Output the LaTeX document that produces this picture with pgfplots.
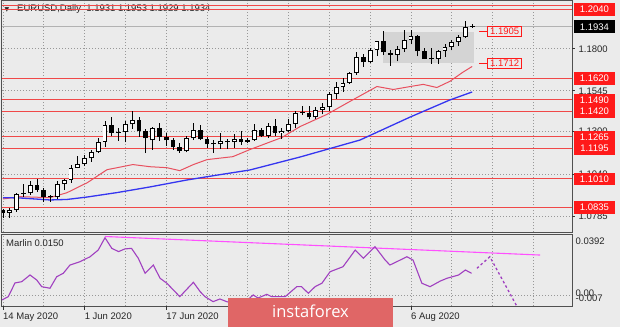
\documentclass[border=0pt]{standalone}
\usepackage{fontspec}
\setmainfont{Liberation Sans}
\newfontfamily\dejavu{DejaVu Sans}
\newfontfamily\logofont{Open Sans}
\usepackage{pgfplots}
\usepackage{pgfplotstable}
\pgfplotsset{compat=1.18}
\definecolor{bg}{HTML}{EBEBEB}
\definecolor{lvl}{HTML}{F04848}
\definecolor{lvlbox}{HTML}{FF1A1A}
\definecolor{maRed}{HTML}{E8505F}
\definecolor{maBlue}{HTML}{3535F0}
\definecolor{osc}{HTML}{A040C0}
\definecolor{trend}{HTML}{FF50FF}
\definecolor{frame}{HTML}{505050}
\definecolor{logo}{HTML}{E06666}
\definecolor{gridc}{HTML}{989898}
\definecolor{boxg}{HTML}{D4D4D4}

\pgfplotstableread{
i O H L C
0 1.0818 1.0826 1.0774 1.0803
1 1.0803 1.0831 1.0774 1.0819
2 1.0820 1.0927 1.0809 1.0918
3 1.0918 1.0976 1.0901 1.0922
4 1.0922 1.0996 1.0913 1.0975
5 1.0975 1.1009 1.0930 1.0944
6 1.0944 1.0952 1.0870 1.0900
7 1.0900 1.0912 1.0870 1.0899
8 1.0898 1.0996 1.0886 1.0977
9 1.0978 1.1009 1.0941 1.1005
10 1.1005 1.1093 1.0987 1.1077
11 1.1077 1.1147 1.1076 1.1101
12 1.1100 1.1153 1.1091 1.1134
13 1.1134 1.1188 1.1114 1.1171
14 1.1171 1.1257 1.1166 1.1236
15 1.1236 1.1362 1.1205 1.1337
16 1.1337 1.1384 1.1270 1.1289
17 1.1290 1.1317 1.1242 1.1294
18 1.1294 1.1361 1.1231 1.1341
19 1.1341 1.1422 1.1316 1.1369
20 1.1369 1.1386 1.1267 1.1300
21 1.1300 1.1310 1.1167 1.1256
22 1.1244 1.1324 1.1188 1.1322
23 1.1322 1.1350 1.1242 1.1264
24 1.1264 1.1286 1.1212 1.1244
25 1.1244 1.1257 1.1186 1.1202
26 1.1202 1.1227 1.1168 1.1177
27 1.1177 1.1268 1.1171 1.1257
28 1.1257 1.1349 1.1245 1.1307
29 1.1307 1.1338 1.1246 1.1250
30 1.1250 1.1262 1.1195 1.1219
31 1.1219 1.1249 1.1170 1.1220
32 1.1219 1.1288 1.1191 1.1241
33 1.1241 1.1252 1.1192 1.1234
34 1.1234 1.1285 1.1200 1.1250
35 1.1250 1.1303 1.1215 1.1237
36 1.1237 1.1260 1.1225 1.1246
37 1.1246 1.1346 1.1242 1.1308
38 1.1308 1.1322 1.1264 1.1273
39 1.1273 1.1347 1.1258 1.1330
40 1.1330 1.1371 1.1270 1.1286
41 1.1286 1.1318 1.1255 1.1299
42 1.1299 1.1375 1.1294 1.1343
43 1.1343 1.1424 1.1320 1.1413
44 1.1413 1.1452 1.1397 1.1410
45 1.1410 1.1452 1.1372 1.1383
46 1.1383 1.1445 1.1372 1.1428
47 1.1428 1.1469 1.1402 1.1445
48 1.1445 1.1540 1.1424 1.1527
49 1.1527 1.1601 1.1496 1.1568
50 1.1568 1.1623 1.1540 1.1595
51 1.1595 1.1660 1.1588 1.1655
52 1.1655 1.1781 1.1641 1.1753
53 1.1753 1.1770 1.1691 1.1718
54 1.1718 1.1805 1.1715 1.1791
55 1.1791 1.1846 1.1756 1.1846
56 1.1846 1.1908 1.1762 1.1778
57 1.1776 1.1795 1.1696 1.1763
58 1.1761 1.1817 1.1723 1.1801
59 1.1801 1.1916 1.1780 1.1854
60 1.1854 1.1916 1.1827 1.1877
61 1.1877 1.1885 1.1754 1.1785
62 1.1787 1.1806 1.1737 1.1737
63 1.1737 1.1806 1.1710 1.1738
64 1.1738 1.1791 1.1710 1.1787
65 1.1787 1.1830 1.1752 1.1812
66 1.1812 1.1852 1.1790 1.1841
67 1.1841 1.1883 1.1817 1.1870
68 1.1870 1.1966 1.1866 1.1931
69 1.1931 1.1953 1.1929 1.1934
}\candles

\pgfplotstableread{
i p
0 1.0888
2.5 1.0902
6.9 1.0896
9.4 1.0926
12.4 1.0987
15.3 1.1066
16.8 1.1078
19.1 1.1097
21.6 1.1084
24.1 1.1078
26 1.1060
28 1.1097
30 1.1127
33.8 1.1145
36.3 1.1188
41 1.1261
43.7 1.1328
47.6 1.1401
51 1.1480
55 1.1571
57.4 1.1553
59.9 1.1571
61.8 1.1584
63.8 1.1565
65.7 1.1602
67.6 1.1657
69 1.1693
}\mared

\pgfplotstableread{
i p
0 1.0896
2.5 1.0894
6.9 1.0882
9.4 1.0885
12.4 1.0900
16.8 1.0927
21.6 1.0961
27 1.1003
31.5 1.1033
36.3 1.1064
43.7 1.1143
52.5 1.1246
59.9 1.1386
65.7 1.1489
69 1.1538
}\mablue

\pgfplotstableread{
i v
-0.147 -0.0031
0.78 -0.0010
1.76 0.0078
2.75 0.0086
3.97 0.0129
4.96 0.0097
5.69 0.0054
6.91 0.0044
7.9 0.0118
8.87 0.0140
9.85 0.0193
11.3 0.0214
12.8 0.0246
14.0 0.0289
15.0 0.0368
16.0 0.0300
17.0 0.0279
17.9 0.0296
18.9 0.0300
19.9 0.0236
20.9 0.0140
22.1 0.0193
23.1 0.0108
24.1 0.0076
26.0 -0.0010
28.0 0.0082
29.0 0.0022
29.7 -0.0010
30.9 -0.0042
31.9 -0.0025
32.9 -0.0042
34 -0.0055
35 -0.0040
36 -0.0030
36.8 0.0001
37.5 -0.0019
38.8 0.0005
39.5 -0.0010
41.5 -0.0010
43.2 0.0054
43.9 0.0054
44.9 0.0012
45.9 0.0054
46.9 0.0076
48.1 0.0150
50.0 0.0182
51.8 0.0289
53.0 0.0236
54.7 0.0311
56.2 0.0225
56.9 0.0193
57.9 0.0214
59.4 0.0246
60.3 0.0225
61.6 0.0076
62.8 0.0054
64.3 0.0090
65.3 0.0108
67.0 0.0129
68.0 0.0161
68.9 0.0140
}\marlin

\pgfplotsset{
  mtpanel/.style={
    anchor=south west, scale only axis, width=570pt,
    xmin=-0.147, xmax=83.68,
    axis line style={frame, line width=1pt},
    xtick={0,6,...,78}, xticklabels={}, yticklabels={},
    scaled x ticks=false, scaled y ticks=false,
    major tick length=0pt,
    grid=major, major grid style={gridc, dash pattern=on 1.2pt off 1.8pt, line width=0.8pt},
    clip mode=individual,
  },
}

\begin{document}
\begin{tikzpicture}[x=1pt,y=1pt,
  lbl/.style={font=\fontsize{9.5}{10}\selectfont},
  lvlnode/.style={lbl, fill=lvlbox, text=white, anchor=west, xshift=1.5pt,
     minimum width=41.5pt, minimum height=12.5pt, inner sep=0pt},
  ticknode/.style={lbl, text=black!85, anchor=west, xshift=6.5pt, inner sep=0pt},
]
\fill[bg] (0pt,0pt) rectangle (620pt,327pt);
% title
\node[anchor=west, inner sep=0, font=\dejavu\fontsize{6}{6}\selectfont, text=black!85] at (4.5pt,317.5pt) {▼};
\node[anchor=west, inner sep=0, lbl, text=black!85] at (17pt,317.5pt) {EURUSD,Daily\ \ 1.1931 1.1953 1.1929 1.1934};

% ---------------- main price panel
\begin{axis}[mtpanel,
  at={(2pt,95pt)}, height=231pt,
  ymin=1.06874, ymax=1.20904,
  ytick={1.0785,1.1040,1.1300,1.1545,1.1800},
]
\addplot[fill=boxg, draw=none, forget plot] coordinates {(55.9,1.1712) (69.3,1.1712) (69.3,1.1905) (55.9,1.1905)} -- cycle;
\addplot[black!30, line width=0.6pt, forget plot] coordinates {(-0.147,1.1934) (83.68,1.1934)};
\pgfplotsinvokeforeach{1.2064,1.2040,1.1620,1.1490,1.1420,1.1265,1.1195,1.1010,1.0835}{
  \addplot[lvl, line width=1.1pt, forget plot] coordinates {(-0.147,#1) (83.68,#1)};
}
\addplot[maRed, line width=1pt] table[x=i,y=p] {\mared};
\addplot[maBlue, line width=1.3pt] table[x=i,y=p] {\mablue};
\addplot[draw=none, mark=none, forget plot,
  error bars/.cd, y dir=plus, y explicit, error mark=none,
  error bar style={black, solid, line width=0.9pt}]
  table[x=i, y=L, y error expr=\thisrow{H}-\thisrow{L}] {\candles};
\addplot[draw=none, mark=none, forget plot,
  error bars/.cd, y dir=plus, y explicit, error mark=none,
  error bar style={black, solid, line width=4.8pt}]
  table[x=i, y expr={min(\thisrow{O},\thisrow{C})},
        y error expr={max(abs(\thisrow{C}-\thisrow{O}),0.0006)}] {\candles};
\addplot[draw=none, mark=none, forget plot,
  error bars/.cd, y dir=plus, y explicit, error mark=none,
  error bar style={white, solid, line width=3pt}]
  table[x=i, y expr={\thisrow{O}+0.0006},
        y error expr={max(\thisrow{C}-\thisrow{O}-0.0012,0)}] {\candles};
\draw[lvlbox, line width=0.8pt] (axis cs:70.04,1.1905) -- (axis cs:71.22,1.1905)
  node[anchor=west, draw=lvlbox, text=lvlbox, lbl, inner xsep=2.5pt, inner ysep=1.5pt, line width=0.8pt] {1.1905};
\draw[lvlbox, line width=0.8pt] (axis cs:70.04,1.1712) -- (axis cs:71.22,1.1712)
  node[anchor=west, draw=lvlbox, text=lvlbox, lbl, inner xsep=2.5pt, inner ysep=1.5pt, line width=0.8pt] {1.1712};
\pgfplotsinvokeforeach{1.0785,1.1040,1.1300,1.1545,1.1800}{
  \draw[black!80, line width=0.8pt] (axis cs:83.68,#1) -- ++(3pt,0pt);
  \node[ticknode] at (axis cs:83.68,#1) {#1};
}
\pgfplotsinvokeforeach{1.2040,1.1620,1.1490,1.1420,1.1265,1.1195,1.1010,1.0835}{
  \node[lvlnode] at (axis cs:83.68,#1) {#1};
}
\node[lvlnode, fill=black] at (axis cs:83.68,1.1934) {1.1934};
\end{axis}

% ---------------- Marlin panel
\begin{axis}[mtpanel,
  at={(2pt,21pt)}, height=72pt,
  ymin=-0.007, ymax=0.0392, ytick={0},
]
\addplot[trend, line width=1.1pt] coordinates {(15,0.0376) (79,0.0257)};
\addplot[osc, line width=1.1pt] table[x=i,y=v] {\marlin};
\addplot[osc, line width=1.3pt, dash pattern=on 2.5pt off 2.5pt] coordinates {(69.7,0.0172) (71.6,0.0246) (75.5,-0.0066)};
\node[lbl, anchor=west, inner sep=0, text=black!85, xshift=4pt, yshift=-9.5pt] at (rel axis cs:0,1) {Marlin 0.0150};
\node[lbl, anchor=west, inner sep=0, text=black!85, xshift=3.5pt, yshift=-7pt] at (rel axis cs:1,1) {0.0392};
\node[lbl, anchor=west, inner sep=0, text=black!85, xshift=3.5pt, yshift=13pt] at (rel axis cs:1,0) {0.00};
\node[lbl, anchor=west, inner sep=0, text=black!85, xshift=3.5pt, yshift=7.5pt] at (rel axis cs:1,0) {-0.007};
\pgfplotsinvokeforeach{0,12,24,60}{
  \draw[black!80, line width=0.8pt] (axis cs:#1,-0.007) -- ++(0pt,-3.5pt);
}
\node[lbl, anchor=base west, inner sep=0, text=black!85, yshift=-13.4pt] at (axis cs:0,-0.007) {14 May 2020};
\node[lbl, anchor=base west, inner sep=0, text=black!85, yshift=-13.4pt] at (axis cs:12,-0.007) {1 Jun 2020};
\node[lbl, anchor=base west, inner sep=0, text=black!85, yshift=-13.4pt] at (axis cs:24,-0.007) {17 Jun 2020};
\node[lbl, anchor=base west, inner sep=0, text=black!85, yshift=-13.4pt] at (axis cs:60,-0.007) {6 Aug 2020};
\end{axis}

% logo
\fill[logo] (228pt,0pt) rectangle (393pt,29.3pt);
\node[text=white, font=\logofont\fontsize{16.5}{18}\selectfont, inner sep=0] at (310.5pt,15.5pt) {instaforex};
\pgfresetboundingbox
\path[use as bounding box] (0pt,0pt) rectangle (620pt,327pt);
\end{tikzpicture}
\end{document}
